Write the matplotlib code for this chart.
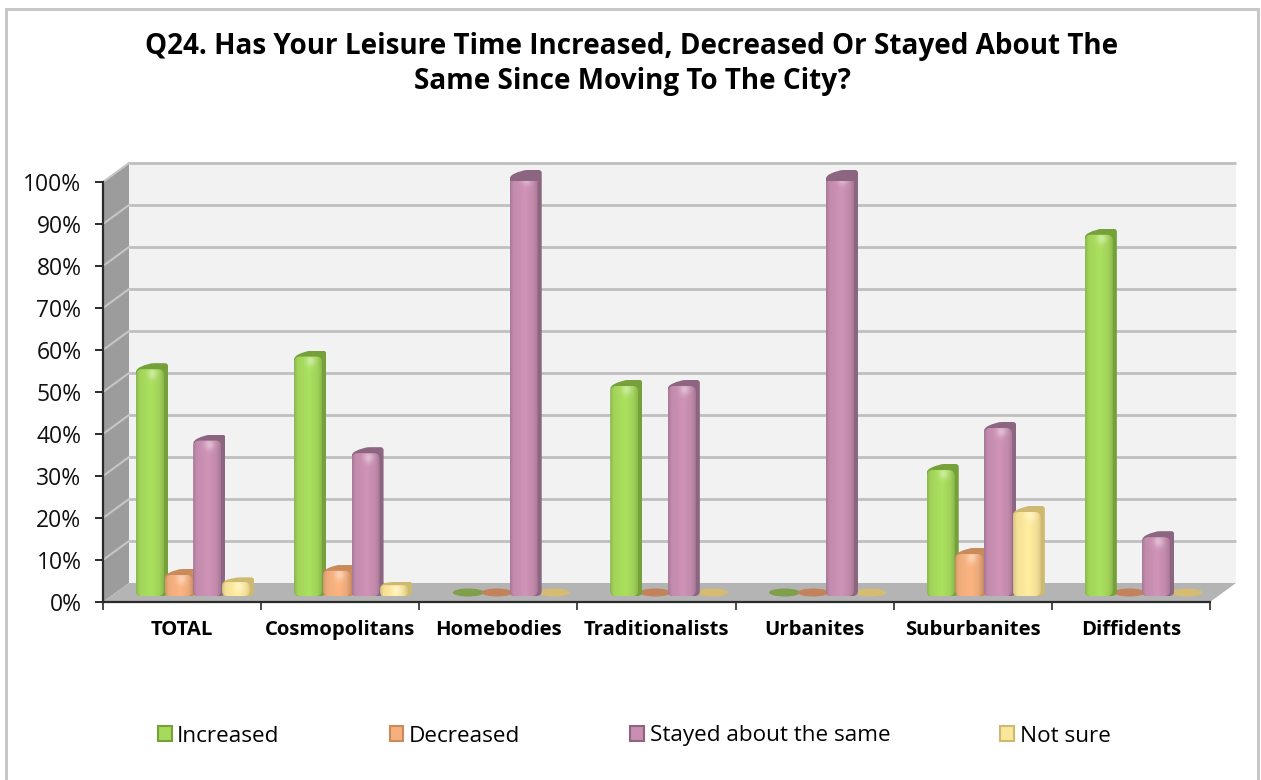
#!/usr/bin/env python
# -*- coding: utf-8 -*-

import matplotlib
matplotlib.use('Agg')
import matplotlib.pyplot as plt
import numpy as np
from matplotlib.colors import to_rgb
from matplotlib.patches import Ellipse, FancyBboxPatch, Patch, PathPatch, Polygon, Rectangle
from matplotlib.path import Path

plt.rcParams['font.family'] = ['Open Sans', 'DejaVu Sans']

title = 'Q24. Has Your Leisure Time Increased, Decreased Or Stayed About The\nSame Since Moving To The City?'
categories = ['TOTAL', 'Cosmopolitans', 'Homebodies', 'Traditionalists', 'Urbanites', 'Suburbanites', 'Diffidents']
series_names = ['Increased', 'Decreased', 'Stayed about the same', 'Not sure']
increased = [54, 57, 0, 50, 0, 30, 86]
decreased = [5, 6, 0, 0, 0, 10, 0]
stayed = [37, 34, 100, 50, 100, 40, 14]
not_sure = [3, 2, 0, 0, 0, 20, 0]
y_ticks = list(range(0, 101, 10))

series = [increased, decreased, stayed, not_sure]
face = ['#a6da5c', '#f5b07e', '#c98fb2', '#fbe79b']
side = ['#76a03a', '#c98a5c', '#8c6680', '#cdb96f']
flat = ['#7f9f4a', '#c4825c', '#8c6680', '#d6bb72']

W, H = 1261, 780
fig = plt.figure(figsize=(W / 100, H / 100), dpi=100, facecolor='white')
left, right, top, bottom = 103, 1210, 182, 602
ax = fig.add_axes([left / W, 1 - bottom / H, (right - left) / W, (bottom - top) / H])
ax.patch.set_visible(False)

# size of one pixel in data units
xu = len(categories) / (right - left)
yu = 100 / (bottom - top)
dx, dy = 26 * xu, 19 * yu
ftSize = 16.5

# outer frame, no bottom edge in the original
fig.add_artist(Rectangle((5 / W, 0), 3 / W, 1 - 8 / H, transform=fig.transFigure, color='#c8c8c8', lw=0))
fig.add_artist(Rectangle((5 / W, 1 - 10.5 / H), 1254 / W, 2.5 / H, transform=fig.transFigure, color='#c8c8c8', lw=0))
fig.add_artist(Rectangle((1257 / W, 0), 2.5 / W, 1 - 8 / H, transform=fig.transFigure, color='#c8c8c8', lw=0))

n = len(categories)
ax.add_patch(Polygon([(dx, dy), (n + dx, dy), (n + dx, 100 + dy), (dx, 100 + dy)],
                     color='#f2f2f2', lw=0, clip_on=False, zorder=1))
ax.add_patch(Polygon([(0, 0), (dx, dy), (dx, 100 + dy), (0, 100)],
                     color='#9c9c9c', lw=0, clip_on=False, zorder=1))
ax.add_patch(Polygon([(0, 0), (n, 0), (n + dx, dy), (dx, dy)],
                     color='#b4b4b4', lw=0, clip_on=False, zorder=1.2))
for t in y_ticks:
    if t > 0:
        ax.plot([dx, n + dx], [t + dy, t + dy], color='#bfbfbf', lw=2, clip_on=False, zorder=1.1,
                solid_capstyle='butt')
        ax.plot([0, dx], [t, t + dy], color='#c6c6c6', lw=1.5, clip_on=False, zorder=1.1)


def body_path(l, r, bot, t, s):
    r0x, r0y = 6 * xu, 5 * yu
    verts = [(l + r0x, bot), (l, bot), (l, bot + r0y),
             (l, t - s - r0y * 0.5), (l, t - s), (l + 4 * xu, t - s + 2 * yu),
             (l + 12 * xu, t), (l + 18 * xu, t),
             (r - 3 * xu, t), (r, t), (r, t - 3 * yu),
             (r, bot + r0y), (r, bot), (r - r0x, bot),
             (l + r0x, bot)]
    codes = [Path.MOVETO, Path.CURVE3, Path.CURVE3,
             Path.LINETO, Path.CURVE3, Path.CURVE3,
             Path.CURVE3, Path.CURVE3,
             Path.LINETO, Path.CURVE3, Path.CURVE3,
             Path.LINETO, Path.CURVE3, Path.CURVE3,
             Path.CLOSEPOLY]
    return Path(verts, codes)


def shaded(color, nx, ny):
    # light from the middle, darker edges and a small glint near the top
    u = np.linspace(0, 1, nx)
    prof = np.interp(u, [0, 0.12, 0.55, 0.85, 1], [0.86, 0.97, 1.03, 0.96, 0.85])
    img = np.ones((ny, nx, 4))
    for c in range(3):
        img[:, :, c] = np.clip(to_rgb(color)[c] * prof, 0, 1)
    yy, xx = np.mgrid[0:ny, 0:nx]
    glint = 0.4 * np.exp(-((xx - 0.58 * nx) ** 2 / 24.0 + (yy - 4) ** 2 / 30.0))
    for c in range(3):
        img[:, :, c] = img[:, :, c] * (1 - glint) + glint
    return img


bar_w = 32 * xu
step = 28.7 * xu
base = 1.4
lift = dy / 2 + 0.6
for j, values in enumerate(series):
    z = 3 + j
    xs = np.arange(n) + 0.5 + dx / 2 + (j - 1.5) * step
    bars = ax.bar(xs, np.array(values) + lift - base, bottom=base, width=bar_w, color=side[j], lw=0, zorder=z)
    for b, c, v in zip(bars, xs, values):
        if v == 0:
            b.set_visible(False)
            ax.add_patch(Ellipse((c, dy / 2), 31 * xu, 8 * yu, color=flat[j], lw=0, zorder=2, clip_on=False))
            continue
        v_top = v + lift
        l, r = c - bar_w / 2, c + bar_w / 2
        h_px = (v_top - base) / yu
        s = min(6, h_px * 0.25) * yu
        outline = PathPatch(body_path(l, r, base, v_top, s), fc='none', ec='none', zorder=z, clip_on=False)
        ax.add_patch(outline)
        b.set_clip_path(outline)
        b.set_clip_box(None)
        # front face with the gradient
        fr = r - 4 * xu
        ft = v_top - s
        rs = min(6, (ft - base) / yu * 0.4) * xu
        front = FancyBboxPatch((l, base), fr - l, ft - base, boxstyle='round,pad=0,rounding_size=%f' % rs,
                               mutation_aspect=yu / xu, fc='none', ec='none', zorder=z + 0.1, clip_on=False)
        ax.add_patch(front)
        nx, ny = 28, max(int((ft - base) / yu), 2)
        im = ax.imshow(shaded(face[j], nx, ny), extent=(l, fr, base, ft), aspect='auto',
                       zorder=z + 0.2, interpolation='bilinear')
        im.set_clip_path(front)
        im.set_clip_box(None)

ax.set_xlim(0, n)
ax.set_ylim(0, 100)
for k in ['top', 'right']:
    ax.spines[k].set_visible(False)
for k in ['left', 'bottom']:
    ax.spines[k].set_color('#2b2b2b')
    ax.spines[k].set_linewidth(1.6)
ax.set_yticks(y_ticks)
ax.set_yticklabels(['%d%%' % t for t in y_ticks], fontsize=ftSize, color='#111111')
ax.set_xticks(range(n + 1))
ax.set_xticklabels([''] * (n + 1))
ax.set_xticks(np.arange(n) + 0.5, minor=True)
ax.set_xticklabels(categories, minor=True, fontsize=14.6, fontweight='bold')
ax.tick_params(axis='y', length=6, width=1.4, pad=9.5, color='#2b2b2b')
ax.tick_params(axis='x', which='major', length=6, width=1.2, color='#2b2b2b')
ax.tick_params(axis='x', which='minor', length=0, pad=13)

fig.text(632 / W, 1 - 64 / H, title, ha='center', va='center', fontsize=20.1, fontweight='bold',
         linespacing=1.3, color='black')

handles = [Patch(facecolor=face[j], edgecolor=side[j], lw=1.5) for j in range(4)]
fig.legend(handles, series_names, ncol=4, frameon=False, fontsize=16.2, loc='center left',
           bbox_to_anchor=(158 / W, 1 - 736 / H), borderpad=0, borderaxespad=0, handlelength=0.6,
           handleheight=0.6, handletextpad=0.25, columnspacing=4.9)

plt.savefig('out.png', dpi=100)
